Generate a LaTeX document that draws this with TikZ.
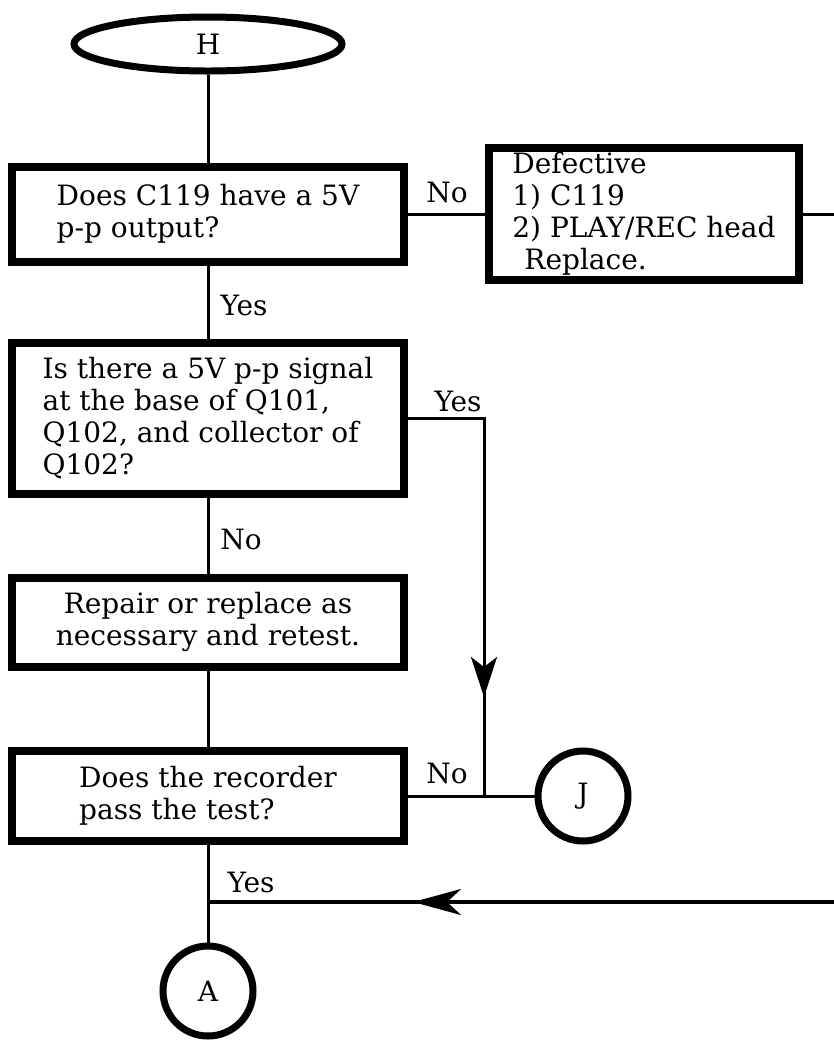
\documentclass[tikz,border=0pt]{standalone}
\usepackage{fontspec}
\setmainfont{DejaVu Serif}
\usetikzlibrary{shapes.geometric,arrows.meta}

\begin{document}
\begin{tikzpicture}[x=0.5pt,y=-0.5pt,
font=\fontsize{14}{16}\selectfont,
boite/.style={draw,line width=4pt,minimum width=196pt,inner sep=0pt},
debut/.style={draw,ellipse,line width=3.5pt,inner sep=0pt},
renvoi/.style={draw,circle,line width=3.5pt,minimum size=45pt,inner sep=0pt},
etiq/.style={inner sep=0pt},
lien/.style={line width=1.5pt},
fleche/.style={-{Stealth[length=20pt,width=13pt,inset=5pt]}}]

\useasboundingbox (0,0) rectangle (834,1040);

% Depart
\node[debut,minimum width=134pt,minimum height=27pt]
(H)
at (208,44)
{H};

% Questions et actions
\node[boite,minimum height=47.5pt,align=left]
(Q1)
at (208,214)
{Does C119 have a 5V\\p-p output?};

\node[boite,minimum width=155pt,minimum height=66pt,align=left]
(D)
at (644,214)
{Defective\\1) C119\\2) PLAY/REC head\\\hspace*{6pt}Replace.};

\node[boite,minimum height=75.5pt,align=left]
(Q2)
at (208,418)
{Is there a 5V p-p signal\\at the base of Q101,\\Q102, and collector of\\Q102?};

\node[boite,minimum height=44.5pt,align=center]
(R)
at (208,622)
{Repair or replace as\\necessary and retest.};

\node[boite,minimum height=45pt,align=left]
(Q3)
at (208,796)
{Does the recorder\\pass the test?};

% Renvois
\node[renvoi]
(J)
at (583,796)
{J};

\node[renvoi]
(A)
at (208,991)
{A};

% Points de passage
\coordinate (sortie) at (834,214);
\coordinate (coude) at (484,418);
\coordinate (pointe) at (484,697);
\coordinate (jonc) at (484,796);
\coordinate (retour) at (834,902);
\coordinate (pointe2) at (413,902);
\coordinate (jonc2) at (208,902);

% Liaisons
\draw[lien] (H) -- (Q1);
\draw[lien] (Q1) -- (Q2);
\draw[lien] (Q1) -- (D);
\draw[lien] (D) -- (sortie);
\draw[lien] (Q2) -- (R);
\draw[lien] (R) -- (Q3);
\draw[lien] (Q3) -- (J);
\draw[lien] (Q3) -- (A);
\draw[lien] (Q2.east) -- (coude) -- (jonc);
\draw[lien,fleche] (coude) -- (pointe);
\draw[line width=2pt] (retour) -- (jonc2);
\draw[line width=2pt,-{Stealth[length=24pt,width=13pt,inset=7pt]}] (retour) -- (pointe2);

% Etiquettes
\node[etiq]
(e1)
at (447,192)
{No};

\node[etiq]
(e2)
at (244,305)
{Yes};

\node[etiq]
(e3)
at (458,401)
{Yes};

\node[etiq]
(e4)
at (241,539)
{No};

\node[etiq]
(e5)
at (447,773)
{No};

\node[etiq]
(e6)
at (251,882)
{Yes};

\end{tikzpicture}
\end{document}
